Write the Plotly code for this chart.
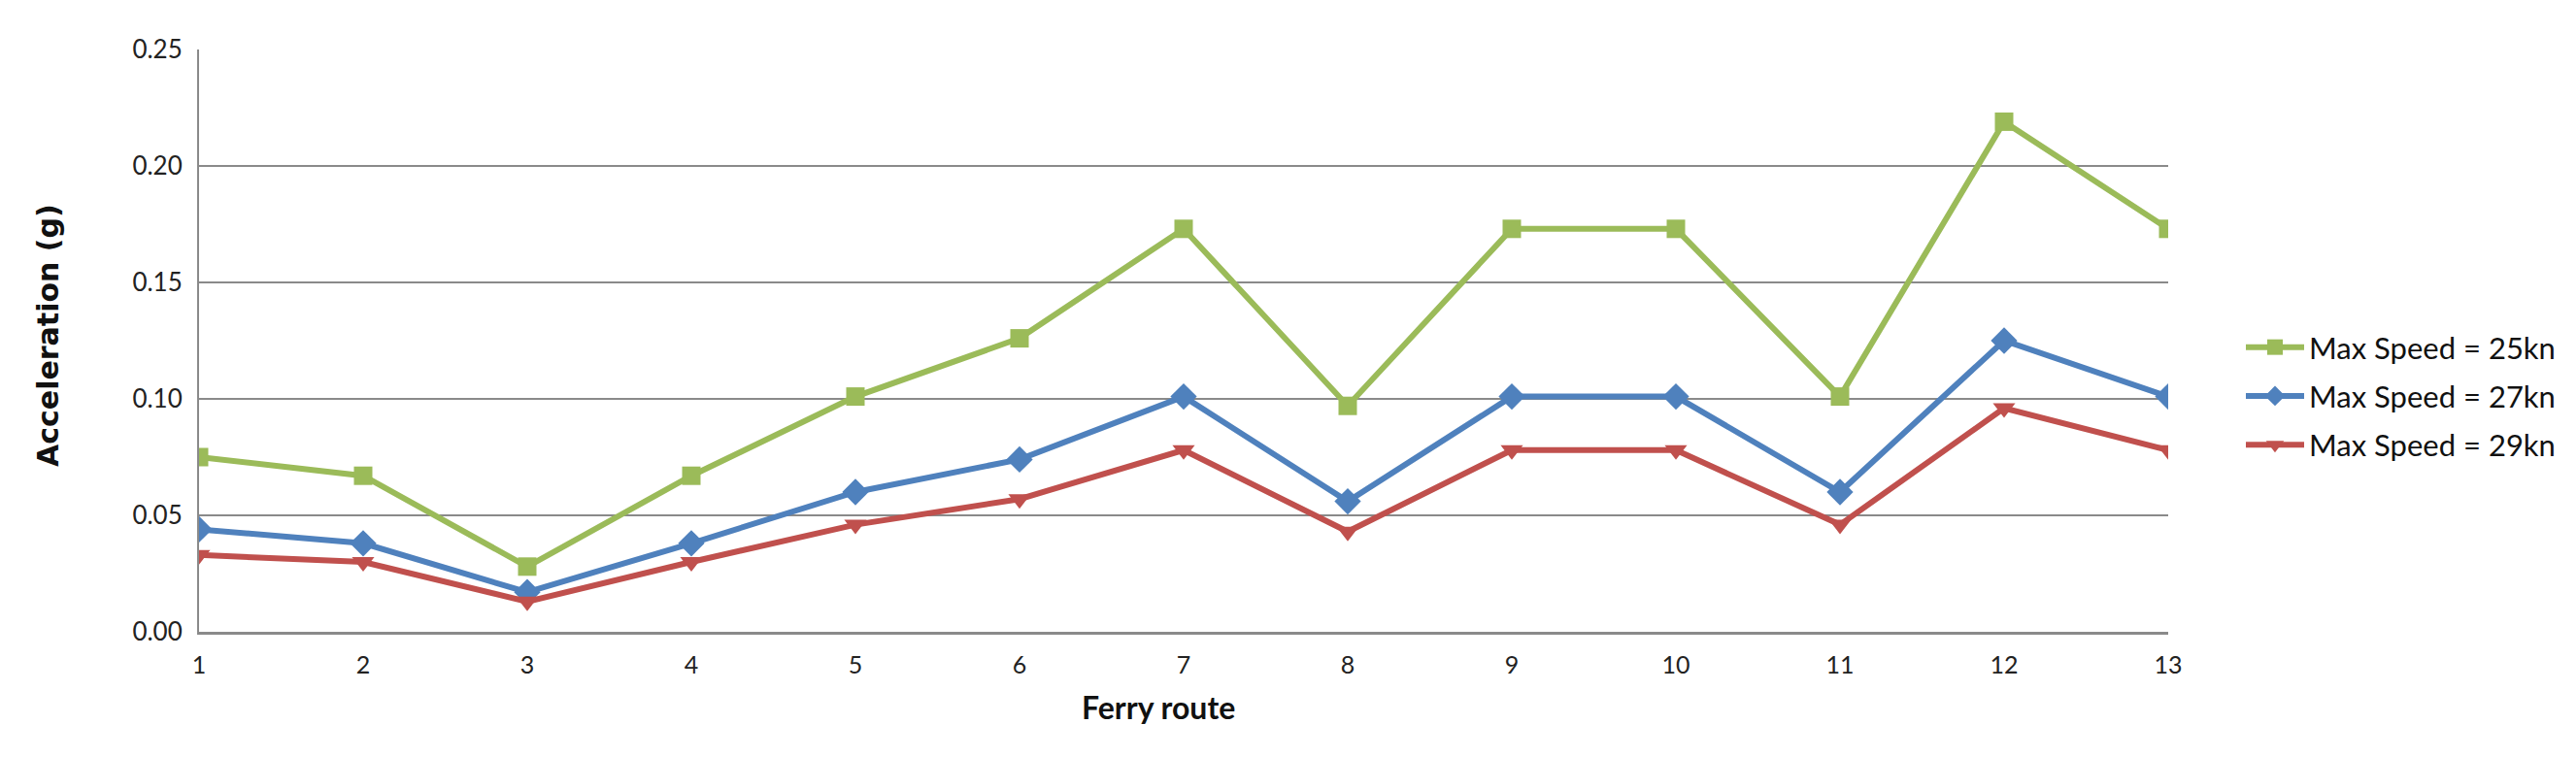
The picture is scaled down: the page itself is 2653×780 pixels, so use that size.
import plotly.graph_objects as go

routes = list(range(1, 14))
speed25 = [0.075, 0.067, 0.028, 0.067, 0.101, 0.126, 0.173, 0.097, 0.173, 0.173, 0.101, 0.219, 0.173]
speed27 = [0.044, 0.038, 0.017, 0.038, 0.060, 0.074, 0.101, 0.056, 0.101, 0.101, 0.060, 0.125, 0.101]
speed29 = [0.033, 0.030, 0.013, 0.030, 0.046, 0.057, 0.078, 0.043, 0.078, 0.078, 0.046, 0.096, 0.078]
names = ["Max Speed = 25kn", "Max Speed = 27kn", "Max Speed = 29kn"]
colors = ["#9BBB59", "#4F81BD", "#C0504D"]
symbols = ["square", "diamond", "triangle-down"]
msizes = [19, 21, 20]

W, H = 2653, 780
L, R, T, B = 197, 428, 43, 137

fig = go.Figure()
for i, (vals, name, c, s, ms) in enumerate(zip([speed25, speed27, speed29], names, colors, symbols, msizes)):
    fig.add_trace(go.Scatter(
        x=routes, y=vals, name=name, mode="lines+markers", legendgroup=f"g{i}",
        line=dict(color=c, width=6),
        marker=dict(color=c, symbol=s, size=ms, line=dict(width=0)),
    ))

pw = W - L - R
ph = H - T - B

fig.update_layout(
    width=W, height=H,
    margin=dict(l=L, r=R, t=T, b=B, autoexpand=False),
    paper_bgcolor="white", plot_bgcolor="white",
    font=dict(family="Lato, sans-serif", color="#222222"),
    showlegend=True,
    legend=dict(
        x=(2300 - L) / pw, y=(H - B - 400) / ph, xanchor="left", yanchor="middle",
        font=dict(family="Lato, sans-serif", size=31, color="#111111"),
        bgcolor="rgba(0,0,0,0)", itemwidth=60, tracegroupgap=7,
    ),
    xaxis=dict(
        range=[1, 13], tickmode="array", tickvals=routes, ticktext=[str(r) for r in routes],
        showgrid=False, zeroline=False, showline=True, linecolor="#8a8a8a", linewidth=3,
        ticks="", tickfont=dict(family="Lato, sans-serif", size=25, color="#222222"),
        ticklabelstandoff=10,
    ),
    yaxis=dict(
        range=[0, 0.25], dtick=0.05, tick0=0, tickformat=".2f",
        showgrid=True, gridcolor="#8a8a8a", gridwidth=2, zeroline=False,
        showline=True, linecolor="#8a8a8a", linewidth=2,
        ticks="", tickfont=dict(family="Lato, sans-serif", size=26, color="#222222"),
        ticklabelstandoff=10,
    ),
    annotations=[
        dict(text="<b>Acceleration (g)</b>", xref="paper", yref="paper",
             x=(41 - L) / pw, y=(H - B - 338) / ph, xanchor="center", yanchor="middle",
             textangle=-90, showarrow=False,
             font=dict(family="DejaVu Sans, sans-serif", size=30, color="#111111")),
        dict(text="<b>Ferry route</b>", xref="paper", yref="paper",
             x=(1185 - L) / pw, y=(H - B - 721) / ph, xanchor="center", yanchor="middle",
             showarrow=False,
             font=dict(family="Lato, sans-serif", size=32, color="#111111")),
    ],
)

fig.write_html("out.html")
